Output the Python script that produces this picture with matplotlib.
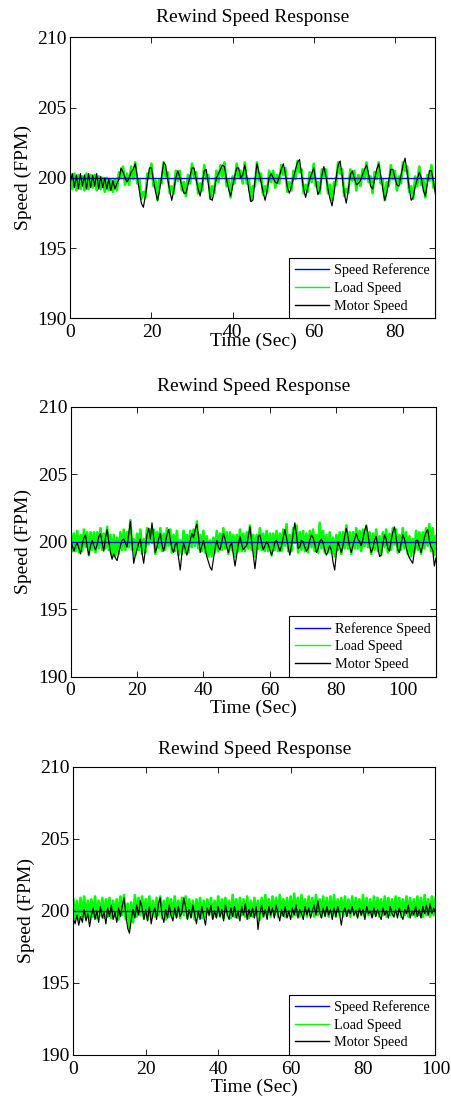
import numpy as np
import matplotlib
matplotlib.use("Agg")
import matplotlib.pyplot as plt

plt.rcParams['font.family'] = ['Liberation Serif', 'DejaVu Serif']

# ---------------- data ----------------
ref_speed = 200.0  # FPM

# Panel 1 (0-90 s), samples every 0.5 s, deviation from reference (FPM)
p1_end = 90
motor1_dev = [
    -0.3, 0.3, -0.7, 0.2, -0.8, 0.3, -0.6, 0.2, -0.8, 0.3,
    -0.7, 0.2, -0.6, 0.3, -0.8, 0.1, -0.7, 0.0, -0.8, -0.1,
    -0.9, -0.2, -0.8, -0.4, -0.1, 0.7, 0.4, 0.0, -0.3, 0.0,
    0.4, 0.6, 1.0, 0.1, -0.9, -1.8, -2.1, -1.3, -0.3, 0.7,
    0.7, -0.2, -1.0, -1.6, -0.9, 0.1, 1.1, 0.9, -0.1, -0.9,
    -1.6, -0.9, 0.0, 0.5, 0.0, -0.6, -1.1, -1.1, -0.5, 0.1,
    0.7, 0.7, -0.1, -0.8, -1.3, -0.5, 0.5, 0.6, -0.4, -1.5,
    -1.6, -0.8, 0.0, 0.3, 0.6, 0.9, 0.8, -0.1, -0.8, -1.3,
    -0.6, 0.1, 0.7, 0.7, 0.0, 0.2, 0.9, 0.1, -0.9, -1.7,
    -1.6, -0.2, 1.0, 0.4, -0.3, -1.0, -1.6, -0.9, 0.0, 0.3,
    0.0, -0.3, -0.4, 0.1, 0.6, 1.0, 0.3, -0.7, -1.1, -0.6,
    0.0, 0.6, 1.1, 1.3, 0.2, -0.8, -1.4, -0.7, -0.1, 0.3,
    0.7, -0.2, -1.2, -0.9, 0.2, 0.8, 0.1, -0.8, -1.5, -2.0,
    -1.1, 0.0, 0.9, 1.2, 0.1, -1.1, -1.8, -0.9, 0.2, 0.5,
    0.0, -0.5, -0.4, -0.2, 0.2, 0.6, 0.9, 0.3, -0.6, -0.8,
    -0.1, 0.6, 1.0, 0.2, -0.8, -1.6, -1.1, -0.2, 0.6, 0.6,
    0.0, -0.5, -0.6, 0.2, 0.9, 1.4, 0.4, -0.7, -1.6, -1.4,
    -0.6, -0.1, 0.4, 0.0, -0.9, -1.3, -0.4, 0.5, 0.5, -0.3,
    -1.2,
]
load1_dev = [
    0.2, -0.8, 0.3, -0.9, 0.2, -0.8, 0.1, -0.9, 0.3, -0.8,
    0.2, -0.7, 0.2, -0.9, 0.1, -0.8, 0.0, -1.0, 0.0, -0.9,
    -0.1, -1.0, -0.1, -0.9, 0.4, 0.0, 0.8, -0.5, 0.3, -0.5,
    0.8, -0.1, 1.1, -0.4, -0.1, -1.5, -1.0, -1.4, 0.3, 0.0,
    1.0, -0.6, -0.2, -1.6, -0.1, -0.4, 1.1, 0.1, 0.4, -1.1,
    -0.6, -1.1, 0.5, -0.2, 0.5, -0.9, -0.3, -1.3, 0.2, -0.4,
    1.0, 0.0, 0.4, -1.1, -0.4, -0.9, 0.9, -0.1, 0.2, -1.5,
    -0.6, -1.1, 0.5, -0.3, 0.9, 0.1, 1.1, -0.6, -0.1, -1.4,
    0.1, -0.4, 1.0, 0.0, 0.5, -0.4, 1.1, -0.4, -0.1, -1.6,
    -0.6, -0.6, 1.1, -0.2, 0.3, -1.2, -0.6, -1.1, 0.5, -0.3,
    0.5, -0.7, 0.2, -0.4, 0.9, 0.2, 0.7, -1.0, -0.3, -0.9,
    0.5, -0.1, 1.2, 0.4, 0.6, -1.1, -0.5, -1.0, 0.4, -0.3,
    1.0, -0.6, -0.3, -1.1, 0.6, 0.1, 0.6, -1.1, -0.5, -1.6,
    -0.3, -0.5, 1.1, 0.3, 0.6, -1.3, -0.8, -1.1, 0.6, -0.2,
    0.5, -0.9, 0.2, -0.6, 0.6, -0.1, 1.1, -0.3, 0.1, -1.1,
    0.4, -0.1, 1.1, -0.4, -0.1, -1.6, -0.3, -0.6, 0.9, -0.1,
    0.5, -0.9, 0.1, -0.4, 1.1, 0.5, 0.8, -1.0, -0.6, -1.5,
    0.1, -0.6, 0.8, -0.5, -0.1, -1.4, 0.2, -0.2, 0.9, -0.7,
    -0.3,
]

# Panel 2 (0-110 s), samples every 0.5 s
p2_end = 110
motor2_dev = [
    0.2, -0.3, -0.7, -0.3, -0.1, -0.5, -0.9, -0.2, 0.3, 0.5,
    -0.4, -1.0, -0.3, 0.1, -0.3, -0.6, -0.2, 0.4, 0.6, -0.1,
    -0.7, 0.3, 0.9, 0.0, -0.8, -1.3, -0.9, -1.2, -1.4, -0.8,
    -0.3, 0.1, 0.2, -0.1, -0.4, 0.6, 1.5, -0.1, -1.6, -1.0,
    -0.6, -0.1, 0.2, -0.8, -1.6, -0.6, 0.5, 1.0, 0.2, 1.4,
    0.3, -0.8, -0.4, 0.2, 0.6, -0.2, -0.7, -0.1, 0.5, 0.9,
    0.2, -0.5, -0.8, -0.2, -0.1, -1.2, -2.1, -0.9, -0.1, -0.5,
    -1.0, -0.5, 0.1, 0.6, 0.3, 0.9, 1.3, 0.4, -0.8, -0.3,
    0.1, -0.5, -1.1, -1.5, -1.9, -2.1, -1.3, -0.5, 0.1, -0.4,
    -0.6, 0.0, 0.6, 0.2, -0.4, -0.8, -0.3, -0.1, -1.0, -1.8,
    -1.0, -0.2, 0.4, -0.2, -0.6, -0.4, -0.3, 0.4, 1.1, 0.0,
    -1.0, -2.0, -0.9, 0.4, 0.5, -0.1, -0.6, -0.3, 0.0, -0.2,
    -0.6, -1.0, -0.6, 0.0, 0.1, -0.3, -0.7, -0.3, 0.3, 0.9,
    0.3, -0.4, -1.0, -0.3, 0.6, 1.4, 0.5, -0.5, -0.4, 0.1,
    0.0, -0.4, -0.7, -0.5, 0.1, 0.5, 0.3, -0.2, -0.8, -0.5,
    0.0, 0.2, -0.1, -0.6, -1.0, -0.7, -0.3, -0.6, -1.5, -2.1,
    -0.9, 0.0, -0.4, -0.8, -0.3, 0.4, 1.0, 0.4, -0.4, -0.8,
    -0.3, 0.2, 0.6, 0.2, 0.0, -0.3, 0.2, 0.8, 1.2, 0.6,
    -0.3, -0.8, -0.5, 0.1, 0.4, -0.4, -1.1, -1.0, -0.2, 0.5,
    0.2, -0.5, -0.7, 0.1, 0.7, 1.1, 0.3, -0.6, -0.8, -0.1,
    0.5, 0.2, -0.4, -0.9, -1.2, -1.4, -1.6, -0.7, 0.1, 0.1,
    -0.4, -0.8, -0.3, 0.3, 0.7, 0.9, 0.1, -0.4, -0.6, -1.8,
    -1.2,
]
load2_dev = [
    0.9, -0.7, 0.6, -0.7, 0.8, -0.8, 0.5, -0.7, 0.9, -0.4,
    0.7, -1.0, 0.7, -0.6, 0.7, -0.8, 0.7, -0.5, 1.0, -0.6,
    0.6, -0.5, 1.1, -0.6, 0.5, -1.1, 0.5, -1.0, 0.3, -0.9,
    0.7, -0.6, 0.9, -0.6, 0.7, -0.4, 1.6, -0.6, 0.2, -1.0,
    0.6, -0.6, 0.9, -0.9, 0.2, -0.8, 1.0, -0.2, 0.9, -0.1,
    0.9, -0.9, 0.7, -0.5, 1.0, -0.7, 0.6, -0.6, 1.0, -0.3,
    0.9, -0.8, 0.5, -0.7, 0.8, -1.0, 0.1, -0.9, 0.8, -0.8,
    0.5, -0.8, 0.8, -0.4, 0.9, -0.3, 1.5, -0.5, 0.5, -0.7,
    0.8, -0.8, 0.4, -1.1, 0.1, -1.1, 0.3, -0.8, 0.8, -0.7,
    0.6, -0.6, 1.0, -0.5, 0.7, -0.9, 0.7, -0.6, 0.5, -1.1,
    0.5, -0.7, 0.9, -0.7, 0.6, -0.7, 0.7, -0.5, 1.2, -0.6,
    0.5, -1.1, 0.5, -0.5, 1.0, -0.6, 0.6, -0.7, 0.8, -0.7,
    0.6, -1.0, 0.6, -0.6, 0.8, -0.7, 0.6, -0.7, 0.9, -0.3,
    1.3, -0.7, 0.5, -0.7, 1.0, -0.1, 1.2, -0.8, 0.7, -0.6,
    0.8, -0.7, 0.6, -0.8, 0.8, -0.4, 0.9, -0.7, 0.5, -0.8,
    1.4, -0.5, 0.8, -0.8, 0.5, -0.8, 0.7, -0.8, 0.3, -1.1,
    0.5, -0.6, 0.7, -0.9, 0.7, -0.5, 1.2, -0.5, 0.7, -0.9,
    0.7, -0.5, 1.0, -0.5, 0.8, -0.7, 0.9, -0.3, 1.2, -0.4,
    0.7, -0.9, 0.6, -0.6, 0.9, -0.7, 0.4, -1.0, 0.7, -0.4,
    0.9, -0.8, 0.6, -0.6, 1.0, -0.2, 0.9, -0.8, 0.5, -0.6,
    1.0, -0.5, 0.7, -0.9, 0.4, -1.1, 0.2, -0.8, 0.8, -0.6,
    0.7, -0.9, 0.7, -0.5, 1.0, -0.3, 1.3, -0.7, 1.0, -1.0,
    0.4,
]

# Panel 3 (0-100 s), samples every 0.5 s
p3_end = 100
motor3_dev = [
    -0.5, -0.9, -0.3, -1.0, -0.4, -0.8, 0.1, -0.7, -0.2, -1.1,
    -0.3, 0.2, -0.6, 0.0, -0.8, 0.3, -0.5, -0.1, -0.9, 0.2,
    -0.4, 0.4, -0.6, -0.1, -0.8, 0.2, -0.4, 0.3, 0.9, -0.2,
    -1.2, -1.55, -0.6, 0.1, -0.5, 0.4, -0.3, 0.7, 0.2, -0.6,
    0.1, -0.7, 0.3, -0.9, -0.2, 0.2, -0.6, 0.5, 0.9, -0.3,
    -0.8, 0.1, -0.5, 0.4, -0.3, -0.7, 0.2, -0.5, 0.3, -0.4,
    -0.1, 0.9, 0.3, -0.6, 0.1, -0.5, 0.4, -0.2, -0.9, 0.0,
    -0.6, 0.3, -0.4, -1.0, 0.2, -0.3, 0.4, -0.6, 0.0, -0.5,
    0.3, -0.4, 0.1, -0.7, 0.4, -0.2, -0.6, 0.2, -0.4, 0.3,
    -0.5, 0.0, -0.7, 0.3, -0.3, 0.5, -0.6, 0.1, -0.4, 0.2,
    -0.5, 0.3, -1.3, -0.2, 0.4, -0.4, 0.1, -0.6, 0.3, -0.3,
    0.2, -0.5, 0.4, -0.2, -0.7, 0.1, -0.4, 0.3, -0.5, 0.0,
    -0.6, 0.2, -0.3, 0.4, -0.5, 0.1, -0.2, -0.6, 0.3, -0.3,
    0.2, -0.5, 0.0, 0.4, -0.3, 0.7, -0.1, -0.5, 0.2, -0.4,
    0.3, -0.3, 0.1, -0.6, 0.2, -0.4, 0.3, -0.2, -1.0, -0.1,
    0.2, -0.4, 0.1, -0.2, 0.3, -0.3, 0.0, -0.5, 0.2, -0.3,
    0.1, -0.6, 0.3, -0.2, 0.0, -0.5, 0.2, -0.4, 0.1, -0.3,
    -0.6, 0.2, -0.3, 0.0, -0.5, 0.3, -0.2, -0.4, 0.1, -0.5,
    0.2, -0.3, -0.6, 0.1, -0.2, 0.4, -0.5, 0.0, -0.3, 0.3,
    -0.4, 0.1, -0.5, 0.3, -0.2, 0.4, -0.3, 0.5, -0.2, 0.2,
    -0.1,
]
load3_dev = [
    0.8, -0.5, 0.7, -0.6, 0.9, -0.4, 1.0, -0.5, 0.7, -0.6,
    0.8, -0.4, 1.0, -0.5, 0.7, -0.3, 0.9, -0.5, 0.8, -0.4,
    0.9, -0.5, 0.7, -0.4, 0.8, -0.6, 1.0, -0.3, 1.1, -0.6,
    0.5, -1.2, 0.6, -0.8, 1.1, -0.4, 0.9, -0.3, 1.0, -0.5,
    0.8, -0.6, 1.0, -0.5, 0.7, -0.4, 0.9, -0.3, 1.0, -0.5,
    0.7, -0.6, 0.9, -0.4, 0.8, -0.5, 1.0, -0.4, 0.7, -0.5,
    0.9, -0.3, 1.0, -0.5, 0.8, -0.4, 0.7, -0.6, 0.8, -0.4,
    0.9, -0.5, 0.7, -0.4, 0.8, -0.3, 0.9, -0.5, 0.7, -0.4,
    1.0, -0.4, 0.8, -0.5, 0.9, -0.3, 0.7, -0.5, 1.1, -0.4,
    0.8, -0.5, 0.9, -0.3, 0.8, -0.4, 1.0, -0.5, 0.7, -0.4,
    0.9, -0.3, 0.7, -0.6, 0.9, -0.4, 1.1, -0.3, 0.8, -0.4,
    1.0, -0.3, 0.9, -0.4, 1.1, -0.3, 0.8, -0.4, 0.9, -0.3,
    1.0, -0.4, 1.2, -0.3, 0.9, -0.4, 1.1, -0.3, 0.8, -0.4,
    1.0, -0.3, 0.9, -0.4, 1.1, -0.3, 0.8, -0.4, 1.0, -0.3,
    0.9, -0.4, 1.0, -0.3, 1.1, -0.4, 0.8, -0.3, 0.9, -0.4,
    1.0, -0.3, 0.8, -0.4, 1.0, -0.3, 0.9, -0.4, 0.8, -0.3,
    1.1, -0.4, 0.9, -0.3, 0.8, -0.4, 1.0, -0.3, 0.9, -0.4,
    0.8, -0.3, 1.0, -0.4, 0.9, -0.3, 0.8, -0.4, 1.0, -0.3,
    0.9, -0.4, 0.8, -0.3, 1.0, -0.4, 0.9, -0.3, 0.8, -0.4,
    1.0, -0.3, 0.9, -0.4, 1.1, -0.3, 0.8, -0.4, 1.0, -0.3,
    0.9,
]

titles = ["Rewind Speed Response"] * 3
legend_labels = [
    ["Speed Reference", "Load Speed", "Motor Speed"],
    ["Reference Speed", "Load Speed", "Motor Speed"],
    ["Speed Reference", "Load Speed", "Motor Speed"],
]
y_ticks = [190, 195, 200, 205, 210]

panels = [
    (p1_end, motor1_dev, load1_dev),
    (p2_end, motor2_dev, load2_dev),
    (p3_end, motor3_dev, load3_dev),
]

# ---------------- figure ----------------
W, H = 452, 1103
fig = plt.figure(figsize=(W / 100, H / 100), dpi=100)

# axes rectangles in pixels: left, top, right, bottom
rects_px = [
    (70.3, 37.3, 435.5, 318.3),
    (70.6, 406.7, 436.0, 676.7),
    (73.3, 766.7, 435.5, 1055.0),
]
xlabel_pads = [-6.0, 0.5, 0.5]
title_pads = [11, 11, 9]

ref_color = '#0000ff'
load_color = '#00ff00'
motor_color = '#000000'

for k, (t_end, m_dev, l_dev) in enumerate(panels):
    l, t, r, b = rects_px[k]
    ax = fig.add_axes([l / W, 1 - b / H, (r - l) / W, (b - t) / H])

    tm = np.linspace(0, t_end, len(m_dev))
    tl = np.linspace(0, t_end, len(l_dev))
    motor = ref_speed + np.array(m_dev)
    load = ref_speed + np.array(l_dev)

    h_load, = ax.plot(tl, load, color=load_color, lw=1.9)
    h_ref, = ax.plot([0, t_end], [ref_speed, ref_speed], color=ref_color, lw=1.0)
    h_mot, = ax.plot(tm, motor, color=motor_color, lw=0.85)

    ax.set_xlim(0, t_end)
    ax.set_ylim(190, 210)
    ax.set_yticks(y_ticks)
    ax.set_xticks(np.arange(0, t_end + 1, 20))

    ax.tick_params(direction='in', top=True, right=True, length=4, width=0.6,
                   labelsize=14)
    ax.tick_params(axis='x', pad=4)
    ax.tick_params(axis='y', pad=2.5)
    for s in ax.spines.values():
        s.set_linewidth(0.8)

    ax.set_title(titles[k], fontsize=14, pad=title_pads[k])
    ax.set_ylabel("Speed (FPM)", fontsize=14, labelpad=4)
    ax.set_xlabel("Time (Sec)", fontsize=14, labelpad=xlabel_pads[k])

    leg = ax.legend([h_ref, h_load, h_mot], legend_labels[k], loc='lower right',
                    fontsize=10.3, frameon=True, fancybox=False, framealpha=1,
                    edgecolor='black', borderaxespad=0, handlelength=2.4,
                    handletextpad=0.35, labelspacing=0.32, borderpad=0.4)
    leg.get_frame().set_linewidth(0.8)
    for line in leg.get_lines():
        line.set_linewidth(1.0)

fig.savefig("out.png", dpi=100)
